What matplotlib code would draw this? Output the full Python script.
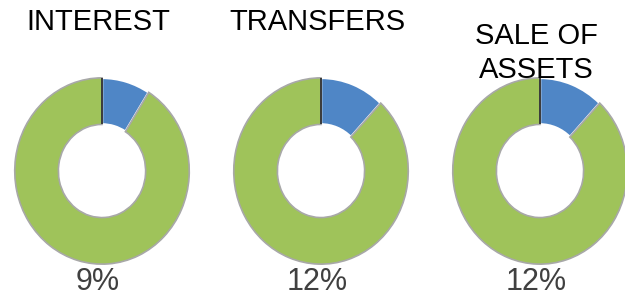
import matplotlib
matplotlib.use('Agg')
import matplotlib.pyplot as plt

# data
titles = ['INTEREST', 'TRANSFERS', 'SALE OF\nASSETS']
shares = [9, 12, 12]          # percent of total (blue slice)
pct_labels = ['9%', '12%', '12%']

blue = '#4f86c6'
green = '#9fc35a'
font = ['Liberation Sans Narrow', 'Liberation Sans', 'DejaVu Sans']

W, H = 625, 304
fig = plt.figure(figsize=(W / 100.0, H / 100.0), dpi=100)

# donut centres in pixels (x from left, y from bottom), half sizes
centres = [102, 321, 540]
cy = 133
hw, hh = 89, 95

for i in range(len(titles)):
    cx = centres[i]
    ax = fig.add_axes([(cx - hw) / W, (cy - hh) / H, 2 * hw / W, 2 * hh / H])
    s = shares[i]
    wedges, _ = ax.pie([s, 100 - s], colors=[blue, green], startangle=90,
                       counterclock=False, radius=1.0,
                       wedgeprops=dict(width=0.5, edgecolor='#a8a8a8', linewidth=1.2))
    # white seam between the blue slice and the green one
    wedges[1].set_edgecolor('#a8a8a8')
    wedges[0].set_edgecolor('white')
    wedges[0].set_linewidth(1.8)
    ax.plot([0, 0], [0.5, 1.0], color='#3a3a3a', lw=1.4, solid_capstyle='butt')
    ax.set_aspect('auto')
    ax.set_xlim(-1.02, 1.02)
    ax.set_ylim(-1.02, 1.02)
    ax.axis('off')

    tx = (cx - 4) / W
    if '\n' in titles[i]:
        fig.text(tx, 1 - 22.0 / H, titles[i], ha='center', va='top',
                 fontsize=21, family=font, color='black', linespacing=1.25,
                 transform=fig.transFigure)
    else:
        fig.text(tx, 1 - 22.0 / H, titles[i], ha='center', va='center',
                 fontsize=21, family=font, color='black')
    fig.text((cx - 4) / W, 22.0 / H, pct_labels[i], ha='center', va='center',
             fontsize=22, family=font, color='#404040')

fig.savefig('out.png', dpi=100)
plt.close(fig)
